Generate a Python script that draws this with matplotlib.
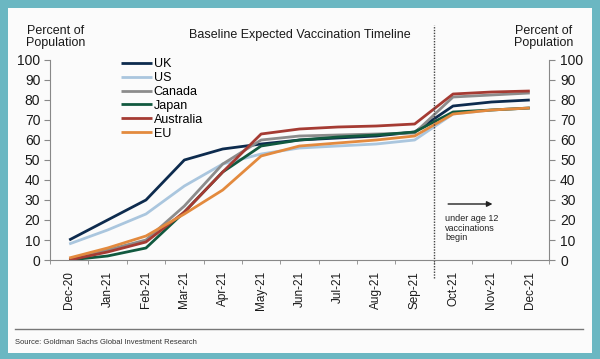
import numpy as np
import matplotlib.pyplot as plt
from matplotlib.patches import Rectangle

plt.rcParams['font.family'] = ['Liberation Sans', 'DejaVu Sans']

# mesi sull'asse x
months = ['Dec-20', 'Jan-21', 'Feb-21', 'Mar-21', 'Apr-21', 'May-21', 'Jun-21',
          'Jul-21', 'Aug-21', 'Sep-21', 'Oct-21', 'Nov-21', 'Dec-21']

# percentuale di popolazione vaccinata
uk = [10, 20, 30, 50, 55.5, 58, 60, 61, 62, 64, 77, 79, 80]
us = [8, 15, 23, 37, 48, 53, 56, 57, 58, 60, 73, 75, 76]
canada = [0, 5, 10, 27, 48, 60, 62, 62.5, 63, 63.5, 81.5, 82.5, 83.5]
japan = [0, 2, 6, 24, 44, 57, 60, 61.5, 62.5, 64, 74, 75, 76]
australia = [0, 4, 9, 24, 44, 63, 65.5, 66.5, 67, 68, 83, 84, 84.5]
eu = [1, 6, 12, 23, 35, 52, 57, 58.5, 60, 62, 73, 75, 76]

series = [('UK', uk, '#0d2b4e'), ('US', us, '#aac6de'), ('Canada', canada, '#8c8c8c'),
          ('Japan', japan, '#11593f'), ('Australia', australia, '#a53b33'), ('EU', eu, '#e38a3e')]

fig = plt.figure(figsize=(6, 3.59), dpi=100)
fig.patch.set_facecolor('#6bb7c2')
fig.patches.append(Rectangle((8/600, 1-353/359), 584/600, 345/359, transform=fig.transFigure,
                             facecolor='#fbfbfb', edgecolor='none', zorder=-10))

ax = fig.add_axes([50/600, 1-260/359, 499/600, 200/359])
ax.set_facecolor('none')
x = np.arange(len(months))
for name, vals, col in series:
    ax.plot(x, vals, color=col, lw=2, label=name, solid_capstyle='butt')

ax.set_xlim(-0.5, len(months)-0.5)
ax.set_ylim(0, 100)
ax.set_yticks(range(0, 101, 10))
ax.set_xticks(x)
ax.set_xticklabels(months, rotation=90, fontsize=8.5, color='#1a1a1a')
ax.set_xticks(np.arange(-0.5, len(months), 1), minor=True)
ax.tick_params(axis='x', which='major', length=0, pad=8)
ax.tick_params(axis='x', which='minor', length=3, color='#888888')
ax.tick_params(axis='y', length=4, color='#888888', labelsize=10, labelcolor='#1a1a1a', pad=3)
for s in ['top', 'right']:
    ax.spines[s].set_visible(False)
for s in ['left', 'bottom']:
    ax.spines[s].set_color('#888888')

ax2 = ax.twinx()
ax2.set_ylim(0, 100)
ax2.set_yticks(range(0, 101, 10))
ax2.tick_params(axis='y', length=4, color='#888888', labelsize=10, labelcolor='#1a1a1a', pad=4)
for s in ['top', 'left', 'bottom']:
    ax2.spines[s].set_visible(False)
ax2.spines['right'].set_color('#888888')

# linea tratteggiata verticale
ax.axvline(9.5, ymin=-0.09, ymax=1.175, color='#444444', lw=1, ls=(0, (1, 1)), clip_on=False)

ax.annotate('', xy=(11.1, 28), xytext=(9.8, 28),
            arrowprops=dict(arrowstyle='-|>', color='#222222', lw=1, mutation_scale=8))
ax.text(9.8, 23, 'under age 12\nvaccinations\nbegin', fontsize=6.5, va='top', ha='left',
        color='#222222', linespacing=1.1)

leg = ax.legend(loc='upper left', bbox_to_anchor=(0.13, 1.04), frameon=False, fontsize=9,
                handlelength=2.5, handletextpad=0.1, labelspacing=0.15, borderpad=0)

fig.text(0.5, 1-35/359, 'Baseline Expected Vaccination Timeline', ha='center', va='center',
         fontsize=9, color='#1a1a1a')
fig.text(56/600, 1-37/359, 'Percent of\nPopulation', ha='center', va='center', fontsize=9,
         color='#1a1a1a', linespacing=1.0)
fig.text(544/600, 1-37/359, 'Percent of\nPopulation', ha='center', va='center', fontsize=9,
         color='#1a1a1a', linespacing=1.0)

fig.add_artist(plt.Line2D([15/600, 583/600], [1-329/359, 1-329/359], color='#777777', lw=1))
fig.text(15/600, 1-342/359, 'Source: Goldman Sachs Global Investment Research', ha='left',
         va='center', fontsize=5.5, color='#333333')

fig.savefig('out.png', dpi=100, facecolor=fig.get_facecolor())
